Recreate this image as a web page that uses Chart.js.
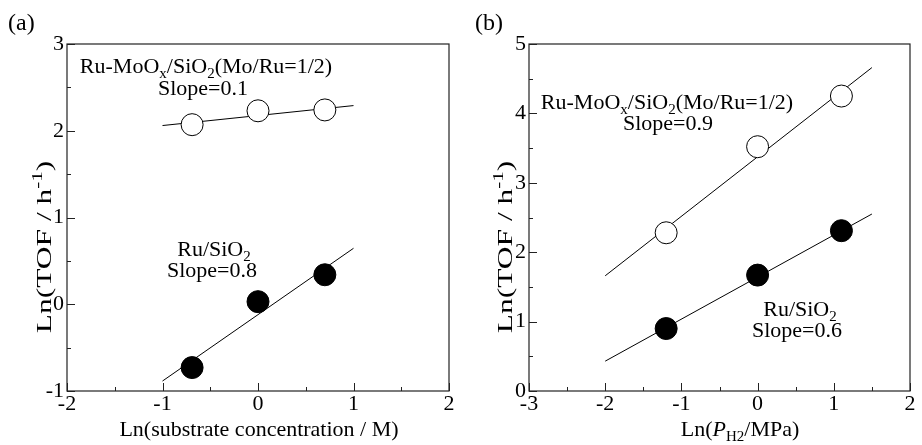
<!DOCTYPE html>
<html><head><meta charset="utf-8">
<script src="https://cdn.jsdelivr.net/npm/chart.js@4/dist/chart.umd.min.js"></script>
<style>
html,body{margin:0;padding:0;background:#fff;}
#wrap{position:relative;width:922px;height:445px;background:#fff;}
.panel{position:absolute;top:0;width:461px;height:445px;}
#pa{left:0;}
#pb{left:461px;}
</style></head><body>
<div id="wrap">
  <div class="panel" id="pa"><canvas id="ca" width="461" height="445"></canvas></div>
  <div class="panel" id="pb"><canvas id="cb" width="461" height="445"></canvas></div>
</div>
<script>
// ---------- Panel (a): substrate concentration ----------
const concX = [-0.69, 0.0, 0.70];
const concRuMo = [2.07, 2.23, 2.24];
const concRu = [-0.73, 0.03, 0.34];
const concFitX = [-1.0, 1.0];
const concFitRuMo = [2.06, 2.29];
const concFitRu = [-0.885, 0.645];
const concXTicks = [-2, -1, 0, 1, 2];
const concYTicks = [-1, 0, 1, 2, 3];

// ---------- Panel (b): H2 pressure ----------
const h2X = [-1.2, 0.0, 1.1];
const h2RuMo = [2.28, 3.52, 4.25];
const h2Ru = [0.90, 1.67, 2.31];
const h2FitX = [-2.0, 1.5];
const h2FitRuMo = [1.66, 4.66];
const h2FitRu = [0.43, 2.55];
const h2XTicks = [-3, -2, -1, 0, 1, 2];
const h2YTicks = [0, 1, 2, 3, 4, 5];

const SERIF = "'Liberation Serif','Times New Roman',serif";

function pts(xs, ys) { return xs.map((x, i) => ({x: x, y: ys[i]})); }

function fontFor(k, size) {
  if (k === 'sub' || k === 'sup') return Math.round(size * 0.66) + 'px ' + SERIF;
  if (k === 'i') return 'italic ' + size + 'px ' + SERIF;
  return size + 'px ' + SERIF;
}
function richWidth(ctx, segs, size) {
  let w = 0;
  for (const [t, k] of segs) {
    ctx.font = fontFor(k, size);
    w += ctx.measureText(t).width;
  }
  return w;
}
function drawRich(ctx, segs, x, y, size, align) {
  ctx.save();
  ctx.fillStyle = '#000';
  ctx.textBaseline = 'alphabetic';
  ctx.textAlign = 'left';
  const w = richWidth(ctx, segs, size);
  let cx = align === 'center' ? x - w / 2 : (align === 'right' ? x - w : x);
  for (const [t, k] of segs) {
    ctx.font = fontFor(k, size);
    let dy = 0;
    if (k === 'sub') dy = size * 0.22;
    if (k === 'sup') dy = -size * 0.42;
    ctx.fillText(t, cx, y + dy);
    cx += ctx.measureText(t).width;
  }
  ctx.restore();
}

function decorPlugin(cfg) {
  return {
    id: 'decor',
    afterDraw(chart) {
      const ctx = chart.ctx;
      const a = chart.chartArea;
      const xs = chart.scales.x, ys = chart.scales.y;
      ctx.save();
      ctx.strokeStyle = '#222';
      ctx.lineWidth = 1.2;
      ctx.strokeRect(a.left, a.top, a.right - a.left, a.bottom - a.top);
      ctx.lineWidth = 1;
      ctx.beginPath();
      for (let v = xs.min; v <= xs.max + 1e-9; v += 0.5) {
        const p = Math.round(xs.getPixelForValue(v)) + 0.5;
        const len = Math.abs(v - Math.round(v)) < 1e-9 ? 8 : 4;
        ctx.moveTo(p, a.bottom); ctx.lineTo(p, a.bottom - len);
      }
      for (let v = ys.min; v <= ys.max + 1e-9; v += 0.5) {
        const p = Math.round(ys.getPixelForValue(v)) + 0.5;
        const len = Math.abs(v - Math.round(v)) < 1e-9 ? 8 : 4;
        ctx.moveTo(a.left, p); ctx.lineTo(a.left + len, p);
      }
      ctx.stroke();
      ctx.restore();
      drawRich(ctx, [[cfg.panel, 'n']], cfg.panelX, 30, 24, 'left');
      for (const an of cfg.notes) drawRich(ctx, an.segs, an.x, an.y, 22, 'center');
      drawRich(ctx, cfg.xTitle, cfg.xTitleX, 436, 22, 'center');
      ctx.save();
      ctx.translate(cfg.yTitleX, cfg.yTitleY);
      ctx.rotate(-Math.PI / 2);
      ctx.scale(1.5, 1);
      drawRich(ctx, [['Ln(TOF / h', 'n'], ['-1', 'sup'], [')', 'n']], 0, 0, 21, 'center');
      ctx.restore();
    }
  };
}

function makeChart(id, c) {
  const tickFont = {family: SERIF, size: 22};
  return new Chart(document.getElementById(id), {
    type: 'scatter',
    data: {
      datasets: [
        {data: pts(c.x, c.open), pointRadius: 11, pointBackgroundColor: '#fff', pointBorderColor: '#000', pointBorderWidth: 1, showLine: false, order: 0},
        {data: pts(c.x, c.filled), pointRadius: 11, pointBackgroundColor: '#000', pointBorderColor: '#000', pointBorderWidth: 1, showLine: false, order: 0},
        {type: 'line', data: pts(c.fitX, c.fitOpen), borderColor: '#000', borderWidth: 1, pointRadius: 0, fill: false, order: 1},
        {type: 'line', data: pts(c.fitX, c.fitFilled), borderColor: '#000', borderWidth: 1, pointRadius: 0, fill: false, order: 1}
      ]
    },
    options: {
      responsive: false,
      animation: false,
      events: [],
      layout: {padding: {top: 44, right: 461 - c.right, left: 0, bottom: 0}},
      plugins: {legend: {display: false}, tooltip: {enabled: false}},
      scales: {
        x: {
          type: 'linear', min: c.xTicks[0], max: c.xTicks[c.xTicks.length - 1],
          afterBuildTicks: s => { s.ticks = c.xTicks.map(v => ({value: v})); },
          ticks: {font: tickFont, color: '#000', padding: 0, autoSkip: false, maxRotation: 0},
          grid: {display: false, drawTicks: false},
          border: {display: false},
          afterFit: s => { s.height = 54; }
        },
        y: {
          type: 'linear', min: c.yTicks[0], max: c.yTicks[c.yTicks.length - 1],
          afterBuildTicks: s => { s.ticks = c.yTicks.map(v => ({value: v})); },
          ticks: {font: tickFont, color: '#000', padding: 3, autoSkip: false},
          grid: {display: false, drawTicks: false},
          border: {display: false},
          afterFit: s => { s.width = c.left; }
        }
      }
    },
    plugins: [decorPlugin(c.decor)]
  });
}

makeChart('ca', {
  x: concX, open: concRuMo, filled: concRu,
  fitX: concFitX, fitOpen: concFitRuMo, fitFilled: concFitRu,
  xTicks: concXTicks, yTicks: concYTicks, left: 67, right: 452,
  decor: {
    panel: '(a)', panelX: 8,
    notes: [
      {segs: [['Ru-MoO', 'n'], ['x', 'sub'], ['/SiO', 'n'], ['2', 'sub'], ['(Mo/Ru=1/2)', 'n']], x: 206, y: 73},
      {segs: [['Slope=0.1', 'n']], x: 203, y: 95},
      {segs: [['Ru/SiO', 'n'], ['2', 'sub']], x: 214, y: 256},
      {segs: [['Slope=0.8', 'n']], x: 212, y: 277}
    ],
    xTitle: [['Ln(substrate concentration / M)', 'n']], xTitleX: 259,
    yTitleX: 51, yTitleY: 247
  }
});

makeChart('cb', {
  x: h2X, open: h2RuMo, filled: h2Ru,
  fitX: h2FitX, fitOpen: h2FitRuMo, fitFilled: h2FitRu,
  xTicks: h2XTicks, yTicks: h2YTicks, left: 68, right: 453,
  decor: {
    panel: '(b)', panelX: 14,
    notes: [
      {segs: [['Ru-MoO', 'n'], ['x', 'sub'], ['/SiO', 'n'], ['2', 'sub'], ['(Mo/Ru=1/2)', 'n']], x: 206, y: 109},
      {segs: [['Slope=0.9', 'n']], x: 207, y: 130},
      {segs: [['Ru/SiO', 'n'], ['2', 'sub']], x: 339, y: 316},
      {segs: [['Slope=0.6', 'n']], x: 336, y: 337}
    ],
    xTitle: [['Ln(', 'n'], ['P', 'i'], ['H2', 'sub'], ['/MPa)', 'n']], xTitleX: 279,
    yTitleX: 51, yTitleY: 247
  }
});
</script>
</body></html>
